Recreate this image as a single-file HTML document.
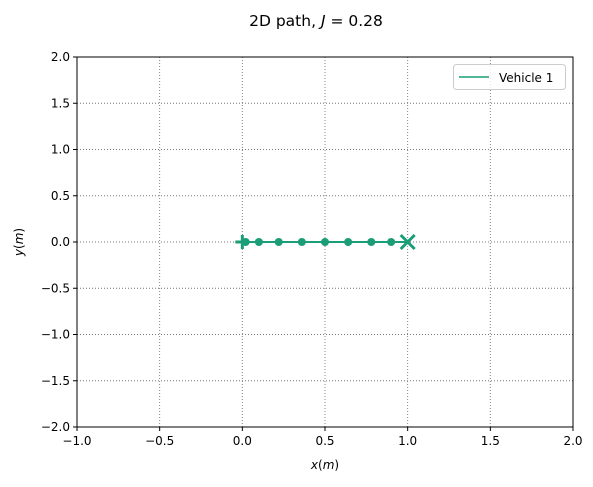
<!DOCTYPE html>
<html><head><meta charset="utf-8"><style>
body{margin:0;background:#fff;}
svg text{font-family:"DejaVu Sans","Liberation Sans",sans-serif;}
</style></head><body>
<svg width="593" height="482" xmlns="http://www.w3.org/2000/svg">
<text x="316" y="26" font-size="15.5" text-anchor="middle">2D path, <tspan font-style="italic">J</tspan> = 0.28</text>
<g id="grid"></g>
<g id="ticks"></g>
<g id="series"></g>
<rect x="77" y="57" width="496" height="370" fill="none" stroke="#000" stroke-width="1"/>
<text x="325" y="469" font-size="12" text-anchor="middle"><tspan font-style="italic">x</tspan>(<tspan font-style="italic">m</tspan>)</text>
<text transform="translate(23,242) rotate(-90)" font-size="12" text-anchor="middle"><tspan font-style="italic">y</tspan>(<tspan font-style="italic">m</tspan>)</text>
<g>
<rect x="453.5" y="64.5" width="112" height="25" rx="3" fill="#fff" fill-opacity="0.8" stroke="#ccc"/>
<line x1="459" y1="77" x2="489" y2="77" stroke="#1b9e77" stroke-width="1.5"/>
<text x="499" y="82" font-size="12">Vehicle 1</text>
</g>
</svg>
<script>
const xTicks=[-1.0,-0.5,0.0,0.5,1.0,1.5,2.0];
const yTicks=[-2.0,-1.5,-1.0,-0.5,0.0,0.5,1.0,1.5,2.0];
const pathX=[-0.04,0.0,0.02,0.10,0.22,0.36,0.50,0.64,0.78,0.90,1.0];
const pathY=[0,0,0,0,0,0,0,0,0,0,0];
const dotX=[0.02,0.10,0.22,0.36,0.50,0.64,0.78,0.90];
const dotY=[0,0,0,0,0,0,0,0];
const startPt=[0,0];
const endPt=[1,0];
const NS="http://www.w3.org/2000/svg";
const sx=v=>77+(v+1)/3*496;
const sy=v=>242-v/4*370;
function mk(t,a,p){const e=document.createElementNS(NS,t);for(const k in a)e.setAttribute(k,a[k]);p.appendChild(e);return e;}
const g=document.getElementById('grid'),tk=document.getElementById('ticks'),s=document.getElementById('series');
xTicks.forEach(v=>{const x=sx(v);
const l=mk('line',{x1:x,y1:57,x2:x,y2:427,stroke:'#777','stroke-dasharray':'1,2','stroke-width':0.9},g);

mk('line',{x1:x,y1:427,x2:x,y2:431,stroke:'#000'},tk);
const t=mk('text',{x:x,y:445,'font-size':12,'text-anchor':'middle'},tk);t.textContent=v.toFixed(1).replace('-','−');
});
yTicks.forEach(v=>{const y=sy(v);
const l=mk('line',{x1:77,y1:y,x2:573,y2:y,stroke:'#777','stroke-dasharray':'1,2','stroke-width':0.9},g);

mk('line',{x1:73,y1:y,x2:77,y2:y,stroke:'#000'},tk);
const t=mk('text',{x:70,y:y+4,'font-size':12,'text-anchor':'end'},tk);t.textContent=v.toFixed(1).replace('-','−');
});
const c='#1b9e77';
const pl=mk('polyline',{points:pathX.map((x,i)=>sx(x)+','+sy(pathY[i])).join(' '),fill:'none',stroke:c,'stroke-width':2},s);

dotX.forEach((x,i)=>{const d=mk('circle',{cx:sx(x),cy:sy(dotY[i]),r:4,fill:c},s);
});
const px=sx(startPt[0]),py=sy(startPt[1]);
const sp=mk('path',{d:`M${px-7},${py}H${px+7}M${px},${py-7}V${py+7}`,stroke:c,'stroke-width':3},s);

const ex=sx(endPt[0]),ey=sy(endPt[1]);
const ep=mk('path',{d:`M${ex-7},${ey-7}L${ex+7},${ey+7}M${ex-7},${ey+7}L${ex+7},${ey-7}`,stroke:c,'stroke-width':3},s);

</script>
</body></html>
